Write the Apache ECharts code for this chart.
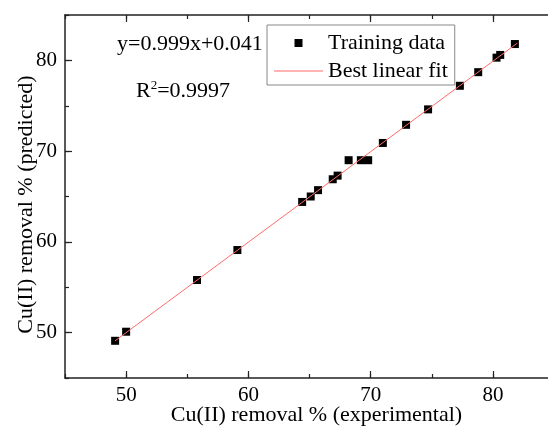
<!DOCTYPE html>
<html>
<head>
<meta charset="utf-8">
<script src="https://cdn.jsdelivr.net/npm/echarts@6/dist/echarts.min.js"></script>
<style>
    html, body {margin: 0; padding: 0; background: #fff;}
    #chart {width: 548px; height: 428px;}
</style>
</head>
<body>
<div id="chart"></div>
<script>
// values
const experimental = [49.1, 50.0, 55.8, 59.1, 64.4, 65.1, 65.7, 66.9, 67.3, 68.2, 69.2, 69.8, 71.0, 72.9, 74.7, 77.3, 78.8, 80.3, 80.6, 81.8]
const predicted = [49.1, 50.1, 55.8, 59.1, 64.4, 65.0, 65.7, 66.9, 67.3, 69.0, 69.0, 69.0, 70.9, 72.9, 74.6, 77.2, 78.7, 80.3, 80.6, 81.8]
const fitX = [49.1, 82.0]
const fitY = [49.1, 81.9]
const majorTicks = [50, 60, 70, 80]
const axisMin = 45
const axisMax = 85

const font = 'Liberation Serif'
const axisColor = '#222'

let points = experimental.map((x, i) => [x, predicted[i]])
let fitLine = fitX.map((x, i) => [x, fitY[i]])

function makeAxis(position, major, showLabel, nameText) {
    let axis = {
        type: 'value',
        position: position,
        min: axisMin,
        max: axisMax,
        interval: 5,
        splitLine: {show: false},
        axisLine: {show: !major, onZero: false, lineStyle: {color: axisColor, width: 1.5}},
        axisTick: {inside: true, length: major ? 7 : 4, lineStyle: {color: axisColor, width: 1.2}},
        axisLabel: {show: false}
    }
    if (major) {
        axis.axisTick.customValues = majorTicks
    }
    if (showLabel) {
        axis.axisLabel = {
            show: true,
            margin: position === 'bottom' ? 7 : 8,
            color: '#000',
            fontFamily: font,
            fontSize: 21,
            formatter: v => (v % 10 === 0 ? String(v) : '')
        }
    }
    if (nameText) {
        axis.name = nameText
        axis.nameLocation = 'middle'
        axis.nameMoveOverlap = false
        axis.nameTextStyle = {color: '#000', fontFamily: font, fontSize: 22}
        if (position === 'bottom') {
            axis.nameGap = 26
            axis.nameTextStyle.padding = [0, 0, 0, 14]
        } else {
            axis.nameGap = 28
            axis.nameTextStyle.padding = [0, 16, 0, 0]
        }
    }
    return axis
}

let chartDom = document.getElementById('chart')
let myChart = echarts.init(chartDom, null, {renderer: 'canvas'})

let option = {
    animation: false,
    backgroundColor: '#fff',
    grid: {left: 65, right: -6, top: 15, bottom: 50, outerBoundsMode: 'none', containLabel: false},
    xAxis: [
        makeAxis('bottom', false, true, 'Cu(II) removal % (experimental)'),
        makeAxis('bottom', true, false, null),
        makeAxis('top', false, false, null),
        makeAxis('top', true, false, null)
    ],
    yAxis: [
        makeAxis('left', false, true, 'Cu(II) removal % (predicted)'),
        makeAxis('left', true, false, null),
        makeAxis('right', false, false, null)
    ],
    legend: {
        orient: 'vertical',
        left: 267,
        top: 25,
        padding: [7, 7, 3, 7],
        itemGap: 6,
        itemWidth: 49,
        itemHeight: 8,
        borderColor: '#888',
        borderWidth: 1,
        textStyle: {fontFamily: font, fontSize: 22, color: '#000'},
        data: [
            {name: 'Training data', icon: 'path://M0,0h1v1h-1z'},
            {name: 'Best linear fit', icon: 'path://M0,0h49v1h-49z'}
        ]
    },
    graphic: [
        {
            type: 'text',
            x: 117,
            y: 44,
            style: {text: 'y=0.999x+0.041', font: '22px "Liberation Serif"', fill: '#000', verticalAlign: 'middle'}
        },
        {
            type: 'text',
            x: 136,
            y: 91,
            style: {
                text: '{a|R}{s|2}{a|=0.9997}',
                fill: '#000',
                verticalAlign: 'middle',
                rich: {
                    a: {fontFamily: font, fontSize: 22, fill: '#000'},
                    s: {fontFamily: font, fontSize: 13, fill: '#000', verticalAlign: 'top', padding: [0, 0, 10, 0]}
                }
            }
        }
    ],
    series: [
        {
            name: 'Training data',
            type: 'scatter',
            symbol: 'rect',
            symbolSize: 8,
            itemStyle: {color: '#000', opacity: 1},
            data: points,
            z: 2
        },
        {
            name: 'Best linear fit',
            type: 'line',
            symbol: 'none',
            lineStyle: {color: '#ff6b6b', width: 1},
            itemStyle: {color: '#ff6b6b'},
            data: fitLine,
            z: 3
        }
    ]
}

myChart.setOption(option)
</script>
</body>
</html>
